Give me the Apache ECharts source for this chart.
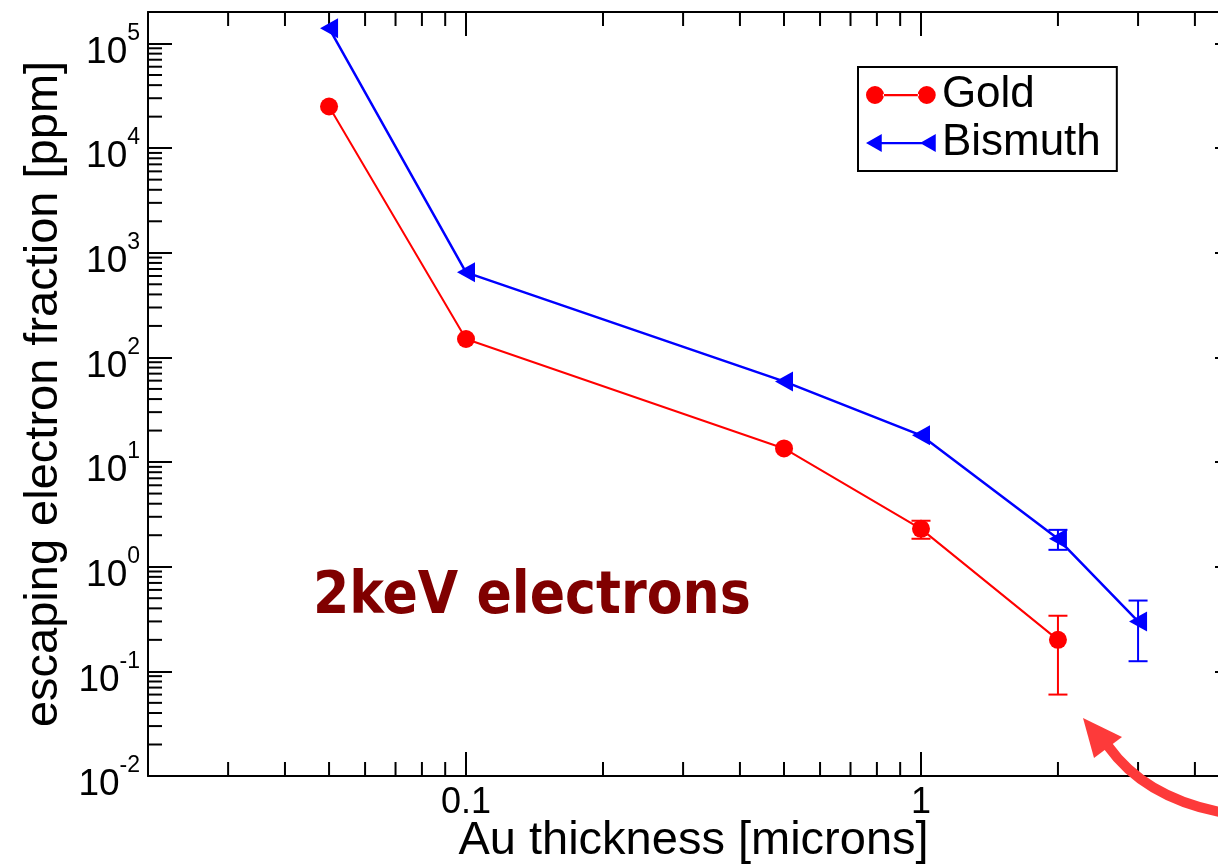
<!DOCTYPE html>
<html>
<head>
<meta charset="utf-8">
<script src="https://cdn.jsdelivr.net/npm/echarts@6/dist/echarts.min.js"></script>
<style>
  html, body { margin: 0; padding: 0; background: #fff; }
  #chart { width: 1218px; height: 868px; }
</style>
</head>
<body>
<div id="chart"></div>
<script>
// Escaping electron fraction (ppm) versus foil thickness (microns), 2 keV electrons
const goldThickness = [0.05, 0.1, 0.5, 1, 2];
const goldFraction = [25000, 150, 13.5, 2.3, 0.2];
const goldError = [0, 0, 0, 0.45, 0.14];

const bismuthThickness = [0.05, 0.1, 0.5, 1, 2, 3];
const bismuthFraction = [140000, 650, 59, 18, 1.85, 0.3];
const bismuthError = [0, 0, 0, 0, 0.4, 0.175];

const xRange = [0.02, 5];
const yRange = [0.01, 200000];

// minor tick values (2..9 times each power of ten inside the ranges)
const minorMultipliers = [2, 3, 4, 5, 6, 7, 8, 9];
const xDecades = [0.01, 0.1, 1];
const yDecades = [0.01, 0.1, 1, 10, 100, 1000, 10000, 100000];

const FONT = '"Liberation Sans", Arial, Helvetica, sans-serif';
const GOLD = '#ff0000';
const BISMUTH = '#0000ff';

function minorValues(decades, range) {
  const out = [];
  decades.forEach(d => minorMultipliers.forEach(m => {
    const v = +(d * m).toPrecision(6);
    if (v > range[0] && v < range[1]) out.push(v);
  }));
  return out;
}
const xMinor = minorValues(xDecades, xRange);
const yMinor = minorValues(yDecades, yRange);

const chart = echarts.init(document.getElementById('chart'), null, { renderer: 'canvas' });

const tickStyle = { color: '#000', width: 2 };
const lineAxis = { show: true, lineStyle: { color: '#000', width: 2 } };

function minorTickSeries(values, dir) {
  return {
    type: 'custom',
    silent: true,
    clip: false,
    xAxisIndex: 0,
    yAxisIndex: 0,
    z: 1,
    data: values.map(v => dir === 'x' ? [v, yRange[0]] : [xRange[0], v]),
    encode: { x: 0, y: 1 },
    renderItem: function (params, api) {
      const v = api.value(dir === 'x' ? 0 : 1);
      const a = dir === 'x' ? api.coord([v, yRange[0]]) : api.coord([xRange[0], v]);
      const b = dir === 'x' ? api.coord([v, yRange[1]]) : api.coord([xRange[1], v]);
      const len = 14;
      const st = { stroke: '#000', lineWidth: 2 };
      if (dir === 'x') {
        return { type: 'group', children: [
          { type: 'line', shape: { x1: a[0], y1: a[1], x2: a[0], y2: a[1] - len }, style: st },
          { type: 'line', shape: { x1: b[0], y1: b[1], x2: b[0], y2: b[1] + len }, style: st }
        ] };
      }
      return { type: 'group', children: [
        { type: 'line', shape: { x1: a[0], y1: a[1], x2: a[0] + len, y2: a[1] }, style: st },
        { type: 'line', shape: { x1: b[0], y1: b[1], x2: b[0] - len, y2: b[1] }, style: st }
      ] };
    }
  };
}

function errorBarSeries(name, xs, ys, errs, color) {
  const data = [];
  xs.forEach((x, i) => { if (errs[i] > 0) data.push([x, ys[i], ys[i] - errs[i], ys[i] + errs[i]]); });
  return {
    type: 'custom',
    name: name + ' error',
    silent: true,
    xAxisIndex: 0,
    yAxisIndex: 0,
    z: 2,
    data: data,
    encode: { x: 0, y: 1 },
    renderItem: function (params, api) {
      const lo = api.coord([api.value(0), api.value(2)]);
      const hi = api.coord([api.value(0), api.value(3)]);
      const half = 9.5;
      const st = { stroke: color, lineWidth: 2 };
      return { type: 'group', children: [
        { type: 'line', shape: { x1: lo[0], y1: lo[1], x2: hi[0], y2: hi[1] }, style: st },
        { type: 'line', shape: { x1: lo[0] - half, y1: lo[1], x2: lo[0] + half, y2: lo[1] }, style: st },
        { type: 'line', shape: { x1: hi[0] - half, y1: hi[1], x2: hi[0] + half, y2: hi[1] }, style: st }
      ] };
    }
  };
}

const goldIcon = 'path://M0,8A8,8,0,1,0,16,8A8,8,0,1,0,0,8Z M15,7H47V9H15Z M46,8A8,8,0,1,0,62,8A8,8,0,1,0,46,8Z';
const bismuthIcon = 'path://M0,8L14,0L14,16Z M12,7H50V9H12Z M48,8L62,0L62,16Z';

const option = {
  animation: false,
  backgroundColor: '#fff',
  grid: {
    left: 148, top: 12, right: -21, bottom: 92,
    show: false,
    outerBoundsMode: 'none'
  },
  xAxis: [
    {
      type: 'log', logBase: 10, min: xRange[0], max: xRange[1],
      position: 'bottom',
      axisLine: lineAxis,
      axisTick: { show: true, inside: true, length: 24, lineStyle: tickStyle },
      axisLabel: { show: true, showMinLabel: false, showMaxLabel: false, margin: 9,
        fontSize: 36, color: '#000', fontFamily: FONT },
      splitLine: { show: false },
      name: 'Au thickness [microns]',
      nameLocation: 'middle',
      nameGap: 42,
      nameMoveOverlap: false,
      nameTextStyle: { fontSize: 47, color: '#000', fontFamily: FONT }
    },
    {
      type: 'log', logBase: 10, min: xRange[0], max: xRange[1],
      position: 'top',
      axisLine: lineAxis,
      axisTick: { show: true, inside: true, length: 24, lineStyle: tickStyle },
      axisLabel: { show: false },
      splitLine: { show: false }
    }
  ],
  yAxis: [
    {
      type: 'log', logBase: 10, min: yRange[0], max: yRange[1],
      position: 'left',
      axisLine: lineAxis,
      axisTick: { show: true, inside: true, length: 24, lineStyle: tickStyle },
      axisLabel: {
        show: true, showMinLabel: true, showMaxLabel: false, margin: 8,
        color: '#000', fontFamily: FONT,
        formatter: function (v) {
          return '{b|10}{sup|' + Math.round(Math.log10(v)) + '}';
        },
        rich: {
          b: { fontSize: 37, fontFamily: FONT, color: '#000', padding: [18, 0, 0, 0], verticalAlign: 'top' },
          sup: { fontSize: 23, fontFamily: FONT, color: '#000', padding: [6, 0, 0, 0], verticalAlign: 'top' }
        }
      },
      splitLine: { show: false },
      name: 'escaping electron fraction [ppm]',
      nameLocation: 'middle',
      nameRotate: 90,
      nameGap: 80,
      nameMoveOverlap: false,
      nameTextStyle: { fontSize: 47, color: '#000', fontFamily: FONT }
    },
    {
      type: 'log', logBase: 10, min: yRange[0], max: yRange[1],
      position: 'right',
      axisLine: lineAxis,
      axisTick: { show: true, inside: true, length: 24, lineStyle: tickStyle },
      axisLabel: { show: false },
      splitLine: { show: false }
    }
  ],
  legend: {
    orient: 'vertical',
    left: 858,
    top: 67,
    padding: [6, 16, 6, 8],
    itemGap: 4,
    itemWidth: 72,
    itemHeight: 18,
    borderColor: '#000',
    borderWidth: 2,
    borderRadius: 0,
    backgroundColor: '#fff',
    textStyle: { fontSize: 44, color: '#000', fontFamily: FONT },
    data: [
      { name: 'Gold', icon: goldIcon },
      { name: 'Bismuth', icon: bismuthIcon }
    ]
  },
  series: [
    minorTickSeries(xMinor, 'x'),
    minorTickSeries(yMinor, 'y'),
    errorBarSeries('Gold', goldThickness, goldFraction, goldError, GOLD),
    errorBarSeries('Bismuth', bismuthThickness, bismuthFraction, bismuthError, BISMUTH),
    {
      name: 'Gold', type: 'line', z: 3,
      data: goldThickness.map((x, i) => [x, goldFraction[i]]),
      symbol: 'circle', symbolSize: 18,
      itemStyle: { color: GOLD },
      lineStyle: { color: GOLD, width: 2 }
    },
    {
      name: 'Bismuth', type: 'line', z: 3,
      data: bismuthThickness.map((x, i) => [x, bismuthFraction[i]]),
      symbol: 'triangle', symbolSize: [20, 18], symbolRotate: 90,
      itemStyle: { color: BISMUTH },
      lineStyle: { color: BISMUTH, width: 2.5 }
    }
  ],
  graphic: [
    {
      type: 'text', left: 313, top: 569, z: 10,
      style: {
        text: '2keV electrons',
        font: 'bold 58px "DejaVu Sans Condensed", "DejaVu Sans", sans-serif',
        fill: '#800000'
      }
    },
    {
      type: 'bezierCurve', z: 10,
      shape: { x1: 1108, y1: 746, cpx1: 1150, cpy1: 805, x2: 1245, y2: 816 },
      style: { stroke: '#fd3a3a', lineWidth: 10, fill: null, lineCap: 'butt' }
    },
    {
      type: 'polygon', z: 10,
      shape: { points: [[1083, 718], [1122, 737], [1094, 758]] },
      style: { fill: '#fd3a3a' }
    }
  ]
};

chart.setOption(option);
</script>
</body>
</html>
